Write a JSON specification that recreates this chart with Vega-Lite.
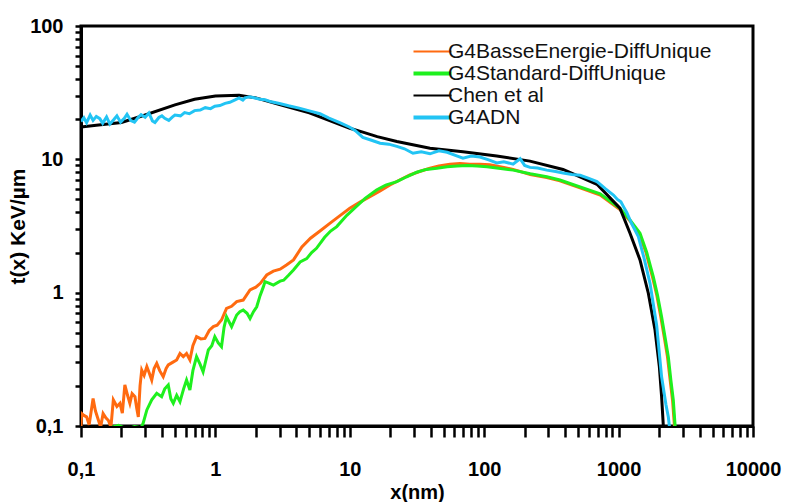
{
  "$schema": "https://vega.github.io/schema/vega-lite/v6.json",
  "width": 672,
  "height": 400,
  "autosize": "none",
  "padding": {"left": 81, "top": 26, "right": 36, "bottom": 76},
  "background": "white",
  "config": {
    "view": {"stroke": "black", "strokeWidth": 3},
    "axis": {
      "labelFont": "Liberation Sans",
      "labelFontWeight": "bold",
      "labelFontSize": 20,
      "labelColor": "black",
      "titleFont": "Liberation Sans",
      "titleFontWeight": "bold",
      "titleFontSize": 20,
      "titleColor": "black",
      "domainColor": "black",
      "domainWidth": 3,
      "tickColor": "black",
      "tickWidth": 2.5,
      "grid": false,
      "labelFlush": false,
      "labelOverlap": false
    }
  },
  "datasets": {
    "names": [
      {"code": "o", "series": "G4BasseEnergie-DiffUnique"},
      {"code": "g", "series": "G4Standard-DiffUnique"},
      {"code": "b", "series": "Chen et al"},
      {"code": "c", "series": "G4ADN"}
    ],
    "curves": [
      {"code":"o","x":0.1,"y":0.098},{"code":"o","x":0.101,"y":0.124},{"code":"o","x":0.105,"y":0.12},{"code":"o","x":0.11,"y":0.117},{"code":"o","x":0.115,"y":0.102},{"code":"o","x":0.123,"y":0.161},{"code":"o","x":0.128,"y":0.13},{"code":"o","x":0.135,"y":0.11},{"code":"o","x":0.14,"y":0.098},{"code":"o","x":0.146,"y":0.124},{"code":"o","x":0.153,"y":0.115},{"code":"o","x":0.16,"y":0.11},{"code":"o","x":0.167,"y":0.098},{"code":"o","x":0.174,"y":0.157},{"code":"o","x":0.185,"y":0.14},{"code":"o","x":0.195,"y":0.148},{"code":"o","x":0.203,"y":0.125},{"code":"o","x":0.212,"y":0.203},{"code":"o","x":0.222,"y":0.17},{"code":"o","x":0.231,"y":0.148},{"code":"o","x":0.24,"y":0.175},{"code":"o","x":0.252,"y":0.166},{"code":"o","x":0.26,"y":0.135},{"code":"o","x":0.267,"y":0.117},{"code":"o","x":0.275,"y":0.2},{"code":"o","x":0.283,"y":0.263},{"code":"o","x":0.295,"y":0.24},{"code":"o","x":0.309,"y":0.279},{"code":"o","x":0.322,"y":0.25},{"code":"o","x":0.336,"y":0.221},{"code":"o","x":0.35,"y":0.27},{"code":"o","x":0.366,"y":0.295},{"code":"o","x":0.385,"y":0.26},{"code":"o","x":0.409,"y":0.234},{"code":"o","x":0.43,"y":0.27},{"code":"o","x":0.446,"y":0.287},{"code":"o","x":0.48,"y":0.3},{"code":"o","x":0.515,"y":0.313},{"code":"o","x":0.545,"y":0.35},{"code":"o","x":0.577,"y":0.331},{"code":"o","x":0.61,"y":0.35},{"code":"o","x":0.646,"y":0.313},{"code":"o","x":0.68,"y":0.4},{"code":"o","x":0.724,"y":0.468},{"code":"o","x":0.78,"y":0.45},{"code":"o","x":0.836,"y":0.454},{"code":"o","x":0.9,"y":0.52},{"code":"o","x":0.965,"y":0.556},{"code":"o","x":1.03,"y":0.57},{"code":"o","x":1.11,"y":0.623},{"code":"o","x":1.21,"y":0.763},{"code":"o","x":1.32,"y":0.79},{"code":"o","x":1.44,"y":0.857},{"code":"o","x":1.61,"y":0.88},{"code":"o","x":1.81,"y":1.047},{"code":"o","x":2.0,"y":1.1},{"code":"o","x":2.16,"y":1.175},{"code":"o","x":2.41,"y":1.357},{"code":"o","x":2.7,"y":1.45},{"code":"o","x":3.03,"y":1.5},{"code":"o","x":3.4,"y":1.62},{"code":"o","x":3.81,"y":1.76},{"code":"o","x":4.4,"y":2.2},{"code":"o","x":5.1,"y":2.56},{"code":"o","x":6.0,"y":2.9},{"code":"o","x":7.1,"y":3.31},{"code":"o","x":8.5,"y":3.8},{"code":"o","x":10,"y":4.29},{"code":"o","x":12,"y":4.8},{"code":"o","x":14.1,"y":5.25},{"code":"o","x":16.8,"y":5.8},{"code":"o","x":19.9,"y":6.42},{"code":"o","x":23.5,"y":7.0},{"code":"o","x":28,"y":7.63},{"code":"o","x":33,"y":8.1},{"code":"o","x":39.5,"y":8.57},{"code":"o","x":46,"y":8.9},{"code":"o","x":55.6,"y":9.2},{"code":"o","x":66,"y":9.3},{"code":"o","x":78,"y":9.2},{"code":"o","x":93,"y":9.2},{"code":"o","x":110,"y":9.1},{"code":"o","x":140,"y":8.7},{"code":"o","x":164,"y":8.4},{"code":"o","x":220,"y":7.7},{"code":"o","x":292,"y":7.3},{"code":"o","x":366,"y":6.9},{"code":"o","x":517,"y":6.1},{"code":"o","x":730,"y":5.4},{"code":"o","x":1023,"y":4.2},{"code":"o","x":1216,"y":3.45},{"code":"o","x":1420,"y":2.75},{"code":"o","x":1600,"y":2.0},{"code":"o","x":1790,"y":1.3},{"code":"o","x":1930,"y":0.94},{"code":"o","x":2060,"y":0.66},{"code":"o","x":2190,"y":0.46},{"code":"o","x":2310,"y":0.33},{"code":"o","x":2420,"y":0.22},{"code":"o","x":2520,"y":0.156},{"code":"o","x":2600,"y":0.102},{"code":"o","x":2630,"y":0.09},
      {"code":"g","x":0.17,"y":0.098},{"code":"g","x":0.19,"y":0.101},{"code":"g","x":0.22,"y":0.095},{"code":"g","x":0.25,"y":0.099},{"code":"g","x":0.28,"y":0.097},{"code":"g","x":0.29,"y":0.105},{"code":"g","x":0.309,"y":0.132},{"code":"g","x":0.336,"y":0.157},{"code":"g","x":0.366,"y":0.176},{"code":"g","x":0.398,"y":0.166},{"code":"g","x":0.42,"y":0.19},{"code":"g","x":0.446,"y":0.203},{"code":"g","x":0.466,"y":0.16},{"code":"g","x":0.486,"y":0.148},{"code":"g","x":0.515,"y":0.17},{"code":"g","x":0.545,"y":0.152},{"code":"g","x":0.58,"y":0.19},{"code":"g","x":0.61,"y":0.221},{"code":"g","x":0.646,"y":0.186},{"code":"g","x":0.68,"y":0.26},{"code":"g","x":0.724,"y":0.331},{"code":"g","x":0.77,"y":0.29},{"code":"g","x":0.81,"y":0.255},{"code":"g","x":0.886,"y":0.372},{"code":"g","x":0.94,"y":0.4},{"code":"g","x":0.99,"y":0.468},{"code":"g","x":1.05,"y":0.42},{"code":"g","x":1.11,"y":0.393},{"code":"g","x":1.16,"y":0.55},{"code":"g","x":1.21,"y":0.66},{"code":"g","x":1.32,"y":0.556},{"code":"g","x":1.44,"y":0.68},{"code":"g","x":1.52,"y":0.72},{"code":"g","x":1.61,"y":0.74},{"code":"g","x":1.72,"y":0.7},{"code":"g","x":1.81,"y":0.64},{"code":"g","x":1.92,"y":0.72},{"code":"g","x":2.03,"y":0.784},{"code":"g","x":2.15,"y":0.95},{"code":"g","x":2.27,"y":1.1},{"code":"g","x":2.34,"y":1.21},{"code":"g","x":2.5,"y":1.18},{"code":"g","x":2.7,"y":1.14},{"code":"g","x":3.03,"y":1.22},{"code":"g","x":3.22,"y":1.24},{"code":"g","x":3.5,"y":1.35},{"code":"g","x":3.81,"y":1.48},{"code":"g","x":4.27,"y":1.7},{"code":"g","x":4.78,"y":1.8},{"code":"g","x":5.2,"y":2.0},{"code":"g","x":5.65,"y":2.15},{"code":"g","x":6.5,"y":2.6},{"code":"g","x":7.2,"y":2.9},{"code":"g","x":8.0,"y":3.13},{"code":"g","x":9.5,"y":3.8},{"code":"g","x":11.2,"y":4.43},{"code":"g","x":13,"y":5.1},{"code":"g","x":15.8,"y":5.89},{"code":"g","x":18.5,"y":6.4},{"code":"g","x":22.4,"y":6.8},{"code":"g","x":26.5,"y":7.4},{"code":"g","x":31.5,"y":8.0},{"code":"g","x":37,"y":8.4},{"code":"g","x":44.5,"y":8.57},{"code":"g","x":53,"y":8.8},{"code":"g","x":62.8,"y":8.9},{"code":"g","x":75,"y":9.0},{"code":"g","x":88.5,"y":8.9},{"code":"g","x":105,"y":8.8},{"code":"g","x":124,"y":8.6},{"code":"g","x":164,"y":8.3},{"code":"g","x":220,"y":7.8},{"code":"g","x":292,"y":7.4},{"code":"g","x":366,"y":7.0},{"code":"g","x":517,"y":6.2},{"code":"g","x":730,"y":5.5},{"code":"g","x":1023,"y":4.29},{"code":"g","x":1216,"y":3.51},{"code":"g","x":1443,"y":2.79},{"code":"g","x":1620,"y":2.0},{"code":"g","x":1811,"y":1.32},{"code":"g","x":1950,"y":0.95},{"code":"g","x":2089,"y":0.66},{"code":"g","x":2220,"y":0.46},{"code":"g","x":2344,"y":0.33},{"code":"g","x":2450,"y":0.22},{"code":"g","x":2553,"y":0.156},{"code":"g","x":2630,"y":0.102},{"code":"g","x":2660,"y":0.09},
      {"code":"b","x":0.1,"y":17.5},{"code":"b","x":0.13,"y":18.0},{"code":"b","x":0.2,"y":18.9},{"code":"b","x":0.3,"y":21.5},{"code":"b","x":0.5,"y":25.6},{"code":"b","x":0.7,"y":28.2},{"code":"b","x":1.0,"y":29.9},{"code":"b","x":1.5,"y":30.2},{"code":"b","x":2.0,"y":28.9},{"code":"b","x":3.0,"y":25.8},{"code":"b","x":5.0,"y":22.3},{"code":"b","x":7.0,"y":19.6},{"code":"b","x":10,"y":17.1},{"code":"b","x":12.5,"y":16.0},{"code":"b","x":16,"y":14.8},{"code":"b","x":22.4,"y":13.6},{"code":"b","x":39.5,"y":12.1},{"code":"b","x":69.5,"y":11.4},{"code":"b","x":124,"y":10.6},{"code":"b","x":219,"y":9.7},{"code":"b","x":386,"y":8.4},{"code":"b","x":690,"y":6.5},{"code":"b","x":1023,"y":4.3},{"code":"b","x":1216,"y":2.79},{"code":"b","x":1443,"y":1.76},{"code":"b","x":1664,"y":0.99},{"code":"b","x":1866,"y":0.525},{"code":"b","x":2010,"y":0.279},{"code":"b","x":2089,"y":0.166},{"code":"b","x":2146,"y":0.105},{"code":"b","x":2160,"y":0.09},
      {"code":"c","x":0.1,"y":19.2},{"code":"c","x":0.105,"y":20.5},{"code":"c","x":0.11,"y":18.8},{"code":"c","x":0.117,"y":21.5},{"code":"c","x":0.123,"y":19.6},{"code":"c","x":0.13,"y":21.0},{"code":"c","x":0.138,"y":20.2},{"code":"c","x":0.145,"y":18.6},{"code":"c","x":0.155,"y":20.8},{"code":"c","x":0.164,"y":18.4},{"code":"c","x":0.175,"y":19.8},{"code":"c","x":0.185,"y":21.2},{"code":"c","x":0.197,"y":19.0},{"code":"c","x":0.21,"y":20.3},{"code":"c","x":0.22,"y":21.8},{"code":"c","x":0.235,"y":19.5},{"code":"c","x":0.25,"y":19.0},{"code":"c","x":0.265,"y":20.5},{"code":"c","x":0.28,"y":21.6},{"code":"c","x":0.3,"y":20.7},{"code":"c","x":0.32,"y":22.3},{"code":"c","x":0.34,"y":19.4},{"code":"c","x":0.355,"y":18.9},{"code":"c","x":0.38,"y":20.6},{"code":"c","x":0.4,"y":21.2},{"code":"c","x":0.42,"y":20.3},{"code":"c","x":0.45,"y":19.6},{"code":"c","x":0.48,"y":20.8},{"code":"c","x":0.5,"y":21.5},{"code":"c","x":0.55,"y":21.2},{"code":"c","x":0.59,"y":22.4},{"code":"c","x":0.64,"y":22.0},{"code":"c","x":0.7,"y":23.2},{"code":"c","x":0.77,"y":23.4},{"code":"c","x":0.84,"y":24.4},{"code":"c","x":0.92,"y":24.0},{"code":"c","x":0.99,"y":25.0},{"code":"c","x":1.08,"y":25.3},{"code":"c","x":1.18,"y":26.3},{"code":"c","x":1.28,"y":26.8},{"code":"c","x":1.4,"y":27.9},{"code":"c","x":1.5,"y":28.9},{"code":"c","x":1.6,"y":27.8},{"code":"c","x":1.66,"y":28.9},{"code":"c","x":1.8,"y":29.4},{"code":"c","x":1.97,"y":28.8},{"code":"c","x":2.15,"y":28.2},{"code":"c","x":2.34,"y":28.0},{"code":"c","x":2.6,"y":27.0},{"code":"c","x":3.0,"y":26.2},{"code":"c","x":3.5,"y":25.2},{"code":"c","x":4.2,"y":24.2},{"code":"c","x":5.0,"y":23.1},{"code":"c","x":6.0,"y":22.0},{"code":"c","x":7.0,"y":20.4},{"code":"c","x":8.5,"y":18.8},{"code":"c","x":10,"y":17.4},{"code":"c","x":11,"y":16.4},{"code":"c","x":12.5,"y":14.6},{"code":"c","x":14.5,"y":13.9},{"code":"c","x":16.8,"y":13.2},{"code":"c","x":19.5,"y":13.0},{"code":"c","x":22.4,"y":12.5},{"code":"c","x":25.5,"y":12.0},{"code":"c","x":29.5,"y":11.1},{"code":"c","x":34,"y":11.4},{"code":"c","x":39.5,"y":11.0},{"code":"c","x":46,"y":11.6},{"code":"c","x":53,"y":11.3},{"code":"c","x":61,"y":10.7},{"code":"c","x":69.5,"y":10.2},{"code":"c","x":80,"y":10.6},{"code":"c","x":93,"y":10.4},{"code":"c","x":108,"y":9.9},{"code":"c","x":124,"y":9.4},{"code":"c","x":140,"y":9.6},{"code":"c","x":164,"y":9.2},{"code":"c","x":185,"y":10.1},{"code":"c","x":200,"y":9.0},{"code":"c","x":219,"y":8.7},{"code":"c","x":250,"y":8.6},{"code":"c","x":292,"y":8.3},{"code":"c","x":340,"y":8.1},{"code":"c","x":386,"y":7.9},{"code":"c","x":450,"y":7.7},{"code":"c","x":517,"y":7.6},{"code":"c","x":600,"y":7.2},{"code":"c","x":690,"y":6.8},{"code":"c","x":800,"y":6.0},{"code":"c","x":915,"y":5.4},{"code":"c","x":980,"y":5.0},{"code":"c","x":1040,"y":4.8},{"code":"c","x":1090,"y":4.4},{"code":"c","x":1150,"y":4.0},{"code":"c","x":1250,"y":3.3},{"code":"c","x":1403,"y":2.63},{"code":"c","x":1550,"y":1.8},{"code":"c","x":1713,"y":1.175},{"code":"c","x":1920,"y":0.568},{"code":"c","x":2089,"y":0.234},{"code":"c","x":2250,"y":0.145},{"code":"c","x":2344,"y":0.117},{"code":"c","x":2400,"y":0.095}
    ]
  },
  "data": {"name": "curves"},
  "transform": [
    {"lookup": "code", "from": {"data": {"name": "names"}, "key": "code", "fields": ["series"]}}
  ],
  "mark": {"type": "line", "strokeWidth": 3, "clip": true},
  "encoding": {
    "x": {
      "field": "x",
      "type": "quantitative",
      "scale": {"type": "log", "domain": [0.1, 10000], "nice": false},
      "axis": {
        "title": "x(nm)",
        "titlePadding": 3,
        "values": [0.1,0.2,0.3,0.4,0.5,0.6,0.7,0.8,0.9,1,2,3,4,5,6,7,8,9,10,20,30,40,50,60,70,80,90,100,200,300,400,500,600,700,800,900,1000,2000,3000,4000,5000,6000,7000,8000,9000,10000],
        "tickSize": 11,
        "labelPadding": 22,
        "labelExpr": "datum.value == 0.1 ? '0,1' : (indexof([1,10,100,1000,10000], datum.value) >= 0 ? format(datum.value, 'd') : '')",
        "encode": {
          "ticks": {
            "update": {
              "y": {"signal": "indexof([0.1,1,10,100,1000,10000], datum.value) >= 0 ? -9 : -5"},
              "y2": {"signal": "indexof([0.1,1,10,100,1000,10000], datum.value) >= 0 ? 11 : 0"}
            }
          }
        }
      }
    },
    "y": {
      "field": "y",
      "type": "quantitative",
      "scale": {"type": "log", "domain": [0.1, 100], "nice": false},
      "axis": {
        "title": "t(x) KeV/µm",
        "titlePadding": 1,
        "titleFontSize": 21,
        "values": [0.1,0.2,0.3,0.4,0.5,0.6,0.7,0.8,0.9,1,2,3,4,5,6,7,8,9,10,20,30,40,50,60,70,80,90,100],
        "tickSize": 6,
        "labelPadding": 12,
        "labelExpr": "datum.value == 0.1 ? '0,1' : (indexof([1,10,100], datum.value) >= 0 ? format(datum.value, 'd') : '')",
        "encode": {
          "ticks": {
            "update": {
              "x": {"value": 6},
              "x2": {"signal": "indexof([0.1,1,10,100], datum.value) >= 0 ? -6 : 0"}
            }
          }
        }
      }
    },
    "color": {
      "field": "series",
      "type": "nominal",
      "sort": ["G4BasseEnergie-DiffUnique", "G4Standard-DiffUnique", "Chen et al", "G4ADN"],
      "scale": {
        "domain": ["G4BasseEnergie-DiffUnique", "G4Standard-DiffUnique", "Chen et al", "G4ADN"],
        "range": ["#FF6A10", "#1EF01E", "#000000", "#22C4F4"]
      },
      "legend": {
        "title": null,
        "orient": "none",
        "legendX": 341,
        "legendY": 15,
        "padding": 0,
        "rowPadding": 0,
        "symbolType": "stroke",
        "symbolSize": 1444,
        "symbolStrokeWidth": 3,
        "labelFont": "Liberation Sans",
        "labelFontSize": 21,
        "labelColor": "#111111",
        "labelOffset": 5,
        "labelLimit": 320,
        "encode": {
          "symbols": {
            "update": {
              "strokeWidth": {"signal": "datum.value == 'G4Standard-DiffUnique' || datum.value == 'G4ADN' ? 4 : 2"}
            }
          }
        }
      }
    }
  }
}
